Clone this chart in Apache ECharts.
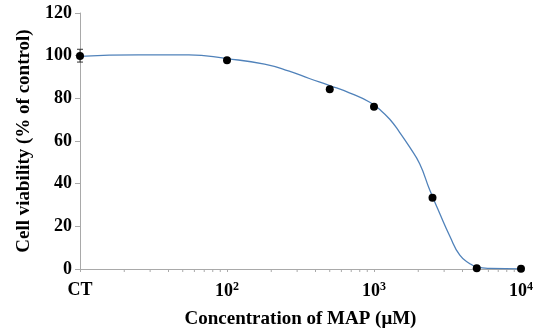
<!DOCTYPE html>
<html>
<head>
<meta charset="utf-8">
<script src="https://cdn.jsdelivr.net/npm/echarts@6/dist/echarts.min.js"></script>
<style>
  html, body { margin: 0; padding: 0; background: #fff; }
  #chart { width: 537px; height: 334px; }
</style>
</head>
<body>
<div id="chart"></div>
<script>
// measured points (concentration in uM, CT drawn at 10)
const pointConc = [10, 100, 500, 1000, 2500, 5000, 10000];
const pointViability = [99.8, 97.8, 84.2, 76.1, 33.4, 0.4, 0.1];

// error bar on control
const errConc = [10];
const errLow = [97];
const errHigh = [103];

// fitted curve
const curveConc = [10, 25, 55, 100, 180, 265, 363, 500, 680, 930, 1100, 1280, 1490, 1745, 2045, 2395, 2800, 3275, 3835, 4490, 5000, 6150, 10000];
const curveViability = [99.7, 100.4, 100.4, 98.6, 96, 92.7, 89.3, 86, 82.6, 78.3, 74.6, 70.2, 64.2, 57.2, 49.3, 37, 26, 15.5, 6.5, 2.5, 1, 0.3, 0.1];

// x axis minor ticks
const minorTicks = [20, 30, 40, 50, 60, 70, 80, 90, 200, 300, 400, 500, 600, 700, 800, 900,
  2000, 3000, 4000, 5000, 6000, 7000, 8000, 9000];

const yTicks = [0, 20, 40, 60, 80, 100, 120];

const font = "Liberation Serif";
const axisGrey = "#a9a9a9";

const chart = echarts.init(document.getElementById("chart"));

const option = {
  animation: false,
  grid: { left: 80, right: 16, top: 13, bottom: 63 },
  xAxis: {
    type: "log",
    logBase: 10,
    min: 10,
    max: 10000,
    name: "Concentration of MAP (\u03bcM)",
    nameLocation: "middle",
    nameGap: 41,
    nameTextStyle: { fontFamily: font, fontWeight: "bold", fontSize: 19, color: "#000" },
    axisLine: { lineStyle: { color: axisGrey, width: 1 } },
    axisTick: { show: true, length: 3, lineStyle: { color: axisGrey } },
    splitLine: { show: false },
    axisLabel: {
      margin: 12,
      formatter(v) {
        if (v === 10) return "{b|CT}";
        const p = Math.round(Math.log10(v));
        return "{b|10}{s|" + p + "}";
      },
      rich: {
        b: { fontFamily: font, fontWeight: "bold", fontSize: 18, color: "#000" },
        s: { fontFamily: font, fontWeight: "bold", fontSize: 12, color: "#000", padding: [0, 0, 9, 0] },
      },
    },
  },
  yAxis: {
    type: "value",
    min: 0,
    max: 120,
    interval: 20,
    name: "Cell viability (% of control)",
    nameLocation: "middle",
    nameGap: 46,
    nameTextStyle: { fontFamily: font, fontWeight: "bold", fontSize: 19, color: "#000" },
    axisLine: { show: true, lineStyle: { color: axisGrey, width: 1 } },
    axisTick: { show: true, length: 5, lineStyle: { color: axisGrey } },
    splitLine: { show: false },
    axisLabel: {
      margin: 8,
      fontFamily: font,
      fontWeight: "bold",
      fontSize: 18,
      color: "#000",
      formatter: (v) => (yTicks.includes(v) ? String(v) : ""),
    },
  },
  series: [
    {
      name: "minor ticks",
      type: "custom",
      clip: false,
      silent: true,
      data: minorTicks.map((v) => [v, 0]),
      renderItem(params, api) {
        const p = api.coord([api.value(0), 0]);
        return {
          type: "line",
          shape: { x1: p[0], y1: p[1], x2: p[0], y2: p[1] + 3 },
          style: { stroke: axisGrey, lineWidth: 1 },
        };
      },
    },
    {
      name: "fit",
      type: "line",
      data: curveConc.map((c, i) => [c, curveViability[i]]),
      smooth: true,
      showSymbol: false,
      symbol: "none",
      lineStyle: { color: "#5082ba", width: 1.3 },
      z: 2,
    },
    {
      name: "error",
      type: "custom",
      clip: false,
      data: errConc.map((c, i) => [c, errLow[i], errHigh[i]]),
      renderItem(params, api) {
        const lo = api.coord([api.value(0), api.value(1)]);
        const hi = api.coord([api.value(0), api.value(2)]);
        const w = 3;
        return {
          type: "group",
          children: [
            { type: "line", shape: { x1: lo[0], y1: lo[1], x2: hi[0], y2: hi[1] }, style: { stroke: "#333", lineWidth: 1 } },
            { type: "line", shape: { x1: lo[0] - w, y1: lo[1], x2: lo[0] + w, y2: lo[1] }, style: { stroke: "#333", lineWidth: 1 } },
            { type: "line", shape: { x1: hi[0] - w, y1: hi[1], x2: hi[0] + w, y2: hi[1] }, style: { stroke: "#333", lineWidth: 1 } },
          ],
        };
      },
      z: 3,
    },
    {
      name: "measured",
      type: "scatter",
      data: pointConc.map((c, i) => [c, pointViability[i]]),
      symbol: "circle",
      symbolSize: 8,
      itemStyle: { color: "#000", opacity: 1 },
      clip: false,
      z: 4,
    },
  ],
};

chart.setOption(option);
</script>
</body>
</html>
